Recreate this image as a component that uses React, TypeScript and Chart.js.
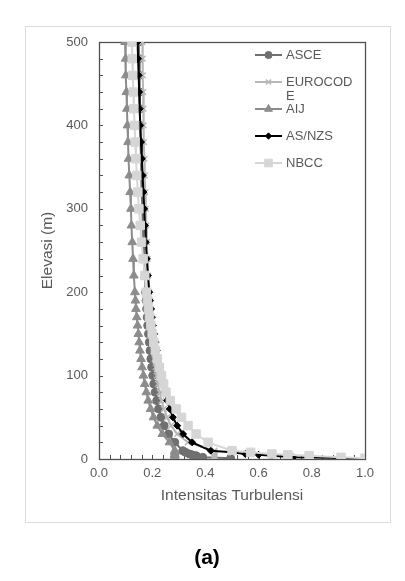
import React, { useEffect, useRef } from 'react';
import { Chart, registerables } from 'chart.js';
import { drawPoint } from 'chart.js/helpers';

Chart.register(...registerables);

// Elevation (m) of every plotted point
const elevations = [
  500, 480, 460, 440, 420, 400, 380, 360, 340, 320, 300, 280, 260, 240, 220, 200,
  190, 180, 170, 160, 150, 140, 130, 120, 110, 100, 90, 80, 70, 60, 50, 40, 30, 20, 10,
  8, 6, 5, 4, 2, 1,
];

const asceValues = [
  0.150, 0.151, 0.152, 0.153, 0.154, 0.155, 0.156, 0.158, 0.159, 0.161, 0.163, 0.165, 0.167, 0.169, 0.172, 0.175,
  0.177, 0.179, 0.181, 0.183, 0.186, 0.189, 0.192, 0.195, 0.198, 0.202, 0.206, 0.211, 0.217, 0.224, 0.233, 0.245, 0.262, 0.285, 0.315,
  0.325, 0.340, 0.350, 0.365, 0.390, 0.495,
];

const eurocodeValues = [
  0.163, 0.164, 0.165, 0.166, 0.167, 0.168, 0.169, 0.171, 0.172, 0.174, 0.176, 0.178, 0.180, 0.182, 0.185, 0.189,
  0.191, 0.193, 0.195, 0.197, 0.200, 0.202, 0.205, 0.209, 0.213, 0.217, 0.222, 0.228, 0.235, 0.244, 0.256, 0.271, 0.294, 0.334, 0.434,
  0.434, 0.434, 0.434, 0.434, 0.434, 0.434,
];

const aijValues = [
  0.098, 0.100, 0.101, 0.103, 0.105, 0.107, 0.109, 0.111, 0.114, 0.117, 0.120, 0.122, 0.125, 0.128, 0.131, 0.135,
  0.137, 0.139, 0.142, 0.145, 0.148, 0.151, 0.154, 0.158, 0.162, 0.167, 0.172, 0.178, 0.185, 0.194, 0.205, 0.219, 0.238, 0.265, 0.285,
  0.285, 0.285, 0.285, 0.285, 0.285, 0.285,
];

const asnzsValues = [
  0.145, 0.147, 0.149, 0.151, 0.153, 0.155, 0.158, 0.161, 0.164, 0.167, 0.170, 0.173, 0.176, 0.180, 0.184, 0.189,
  0.192, 0.196, 0.199, 0.203, 0.207, 0.212, 0.217, 0.223, 0.229, 0.235, 0.241, 0.248, 0.256, 0.266, 0.278, 0.294, 0.316, 0.350, 0.420,
  0.500, 0.550, 0.600, 0.650, 0.730, 1.000,
];

const nbccValues = [
  0.124, 0.125, 0.127, 0.129, 0.131, 0.134, 0.136, 0.139, 0.142, 0.146, 0.150, 0.155, 0.160, 0.166, 0.172, 0.178,
  0.182, 0.186, 0.190, 0.195, 0.200, 0.206, 0.212, 0.219, 0.227, 0.235, 0.243, 0.252, 0.268, 0.290, 0.310, 0.335, 0.365, 0.410, 0.500,
  0.570, 0.650, 0.710, 0.790, 0.910, 1.000,
];

const seriesNames = ['ASCE', 'EUROCODE', 'AIJ', 'AS/NZS', 'NBCC'];
const xTickValues = [0, 0.2, 0.4, 0.6, 0.8, 1.0];
const yTickValues = [0, 100, 200, 300, 400, 500];
const xAxisTitle = 'Intensitas Turbulensi';
const yAxisTitle = 'Elevasi (m)';
const caption = '(a)';

const W = 405;
const H = 581;
const FONT = "'Liberation Sans', Arial, sans-serif";
const TEXT = '#595959';

export default function App() {
  const ref = useRef<HTMLCanvasElement>(null);

  useEffect(() => {
    if (!ref.current) return;
    const pts = (vals: number[]) => vals.map((v, i) => ({ x: v, y: elevations[i] }));
    const styles = [
      { color: '#707070', pointStyle: 'circle', radius: 4, order: 5 },
      { color: '#b8b8b8', pointStyle: 'crossRot', radius: 4, order: 4 },
      { color: '#8c8c8c', pointStyle: 'triangle', radius: 5, order: 3 },
      { color: '#000000', pointStyle: 'rectRot', radius: 3.5, order: 2 },
      { color: '#d6d6d6', pointStyle: 'rect', radius: 6, order: 1 },
    ];
    const allValues = [asceValues, eurocodeValues, aijValues, asnzsValues, nbccValues];

    const datasets = seriesNames.map((name, i) => ({
      label: name,
      data: pts(allValues[i]),
      borderColor: styles[i].color,
      backgroundColor: styles[i].color,
      pointBackgroundColor: styles[i].color,
      pointBorderColor: styles[i].color,
      pointStyle: styles[i].pointStyle,
      pointRadius: styles[i].radius,
      pointBorderWidth: i === 1 ? 1.5 : 1,
      borderWidth: 2,
      showLine: true,
      tension: 0,
      order: styles[i].order,
    }));

    const decor = {
      id: 'decor',
      beforeDraw(chart: any) {
        const ctx = chart.ctx;
        ctx.save();
        ctx.fillStyle = '#ffffff';
        ctx.fillRect(0, 0, W, H);
        ctx.strokeStyle = '#dcdcdc';
        ctx.lineWidth = 1;
        ctx.strokeRect(25.5, 26.5, 365, 496);
        ctx.restore();
      },
      beforeDatasetsDraw(chart: any) {
        const ctx = chart.ctx;
        const a = chart.chartArea;
        const xs = chart.scales.x;
        const ys = chart.scales.y;
        ctx.save();
        ctx.strokeStyle = '#505050';
        ctx.lineWidth = 1;
        ctx.beginPath();
        for (let k = 1; k < 25; k++) {
          const y = Math.round(ys.getPixelForValue(k * 20)) + 0.5;
          ctx.moveTo(a.left, y);
          ctx.lineTo(a.left + 4, y);
        }
        for (let k = 1; k < 25; k++) {
          const x = Math.round(xs.getPixelForValue(k * 0.04)) + 0.5;
          ctx.moveTo(x, a.bottom);
          ctx.lineTo(x, a.bottom - 4);
        }
        ctx.stroke();
        ctx.lineWidth = 1.3;
        ctx.strokeRect(Math.round(a.left) + 0.5, Math.round(a.top) + 0.5, Math.round(a.right - a.left), Math.round(a.bottom - a.top));
        ctx.restore();
      },
      afterDraw(chart: any) {
        const ctx = chart.ctx;
        ctx.save();
        const lx0 = 255;
        const lx1 = 282;
        const tx = 286;
        const maxW = 70;
        ctx.font = `13px ${FONT}`;
        ctx.textBaseline = 'middle';
        ctx.textAlign = 'left';
        chart.data.datasets.forEach((ds: any, i: number) => {
          const y = 55 + i * 27;
          ctx.strokeStyle = ds.borderColor;
          ctx.fillStyle = ds.borderColor;
          ctx.lineWidth = 2;
          ctx.beginPath();
          ctx.moveTo(lx0, y);
          ctx.lineTo(lx1, y);
          ctx.stroke();
          ctx.lineWidth = ds.pointBorderWidth;
          drawPoint(ctx, { pointStyle: ds.pointStyle, radius: ds.pointRadius * 0.9, rotation: 0, borderWidth: ds.pointBorderWidth }, (lx0 + lx1) / 2, y);
          const lines: string[] = [];
          let cur = '';
          for (const ch of ds.label) {
            if (ctx.measureText(cur + ch).width > maxW && cur) {
              lines.push(cur);
              cur = ch;
            } else cur += ch;
          }
          lines.push(cur);
          ctx.fillStyle = TEXT;
          lines.forEach((ln, j) => ctx.fillText(ln, tx, y + j * 14));
        });
        ctx.fillStyle = '#000000';
        ctx.font = `bold 21px ${FONT}`;
        ctx.textAlign = 'center';
        ctx.fillText(caption, 207, 558);
        ctx.restore();
      },
    };

    const chart = new Chart(ref.current, {
      type: 'scatter',
      data: { datasets },
      options: {
        animation: false,
        responsive: false,
        devicePixelRatio: 1,
        layout: { padding: { left: 25, top: 42, right: 40, bottom: 72 } },
        plugins: { legend: { display: false }, tooltip: { enabled: false } },
        scales: {
          x: {
            type: 'linear',
            min: 0,
            max: 1,
            afterBuildTicks: (axis: any) => {
              axis.ticks = xTickValues.map((v) => ({ value: v }));
            },
            afterFit: (axis: any) => {
              axis.height = 50;
            },
            ticks: {
              callback: (v: any) => Number(v).toFixed(1),
              font: { size: 13, family: FONT },
              color: TEXT,
              padding: 7,
              maxRotation: 0,
              autoSkip: false,
            },
            grid: { display: false, drawTicks: false },
            border: { display: false },
            title: {
              display: true,
              text: xAxisTitle,
              font: { size: 15.5, family: FONT },
              color: TEXT,
              padding: { top: 0, bottom: 4 },
            },
          },
          y: {
            type: 'linear',
            min: 0,
            max: 500,
            afterBuildTicks: (axis: any) => {
              axis.ticks = yTickValues.map((v) => ({ value: v }));
            },
            afterFit: (axis: any) => {
              axis.width = 74;
            },
            ticks: {
              callback: (v: any) => String(v),
              font: { size: 13, family: FONT },
              color: TEXT,
              padding: 11,
              autoSkip: false,
            },
            grid: { display: false, drawTicks: false },
            border: { display: false },
            title: {
              display: true,
              text: yAxisTitle,
              font: { size: 15.5, family: FONT },
              color: TEXT,
              padding: { top: 13, bottom: 0 },
            },
          },
        },
      },
      plugins: [decor],
    } as any);

    return () => chart.destroy();
  }, []);

  return (
    <div style={{ position: 'fixed', left: 0, top: 0, width: W, height: H, background: '#fff' }}>
      <canvas ref={ref} width={W} height={H} style={{ display: 'block', width: W, height: H }} />
    </div>
  );
}
